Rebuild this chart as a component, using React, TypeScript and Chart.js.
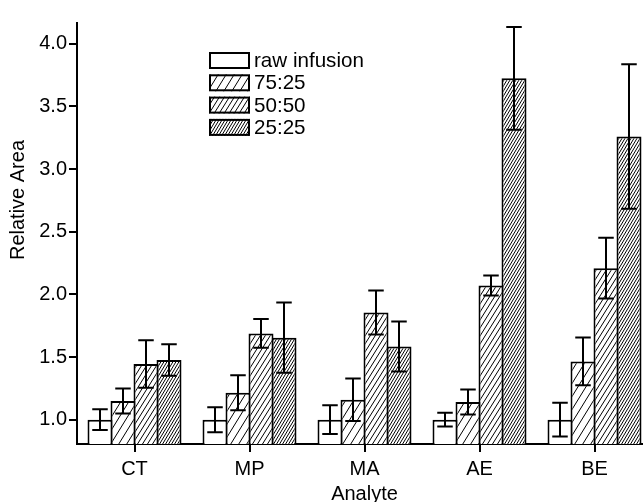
import React, { useEffect, useRef } from 'react';
import { Chart, registerables } from 'chart.js';

Chart.register(...registerables);

const categories = ['CT', 'MP', 'MA', 'AE', 'BE'];
const seriesNames = ['raw infusion', '75:25', '50:50', '25:25'];
const rawInfusion = [1.0, 1.0, 1.0, 1.0, 1.0];
const rawInfusionErr = [0.083, 0.1, 0.115, 0.055, 0.135];
const ratio7525 = [1.149, 1.215, 1.159, 1.141, 1.465];
const ratio7525Err = [0.1, 0.14, 0.17, 0.1, 0.19];
const ratio5050 = [1.444, 1.688, 1.855, 2.071, 2.209];
const ratio5050Err = [0.19, 0.115, 0.175, 0.08, 0.243];
const ratio2525 = [1.476, 1.654, 1.584, 3.724, 3.259];
const ratio2525Err = [0.125, 0.28, 0.2, 0.41, 0.577];
const yTicks = [1.0, 1.5, 2.0, 2.5, 3.0, 3.5, 4.0];
const yTitle = 'Relative Area';
const xTitle = 'Analyte';

const seriesValues = [rawInfusion, ratio7525, ratio5050, ratio2525];
const seriesErrors = [rawInfusionErr, ratio7525Err, ratio5050Err, ratio2525Err];

const FONT = '"Liberation Sans", Arial, Helvetica, sans-serif';

function makeHatch(ctx: CanvasRenderingContext2D, spacing: number, rise: number) {
  const c = document.createElement('canvas');
  c.width = spacing;
  c.height = rise;
  const g = c.getContext('2d')!;
  g.fillStyle = '#ffffff';
  g.fillRect(0, 0, spacing, rise);
  g.strokeStyle = '#000000';
  g.lineWidth = 1;
  g.beginPath();
  for (const dx of [-spacing, 0, spacing]) {
    g.moveTo(dx, rise);
    g.lineTo(dx + spacing, 0);
  }
  g.stroke();
  return ctx.createPattern(c, 'repeat') as CanvasPattern;
}

export default function App() {
  const ref = useRef<HTMLCanvasElement | null>(null);

  useEffect(() => {
    const canvas = ref.current;
    if (!canvas) return;
    const ctx = canvas.getContext('2d')!;
    const fills: (string | CanvasPattern)[] = [
      '#ffffff',
      makeHatch(ctx, 8, 13),
      makeHatch(ctx, 5, 8),
      makeHatch(ctx, 3, 5),
    ];

    const errorBars = {
      id: 'errorBars',
      afterDatasetsDraw(chart: any) {
        const c = chart.ctx;
        const ys = chart.scales.y;
        c.save();
        c.strokeStyle = '#000';
        c.lineWidth = 2;
        chart.data.datasets.forEach((ds: any, i: number) => {
          const meta = chart.getDatasetMeta(i);
          meta.data.forEach((el: any, j: number) => {
            const v = seriesValues[i][j];
            const e = seriesErrors[i][j];
            const yt = ys.getPixelForValue(v + e);
            const yb = ys.getPixelForValue(v - e);
            const hw = el.width * 0.31;
            c.beginPath();
            c.moveTo(el.x, yt);
            c.lineTo(el.x, yb);
            c.moveTo(el.x - hw, yt);
            c.lineTo(el.x + hw, yt);
            c.moveTo(el.x - hw, yb);
            c.lineTo(el.x + hw, yb);
            c.stroke();
          });
        });
        c.restore();
      },
    };

    const customText = {
      id: 'customText',
      afterDraw(chart: any) {
        const c = chart.ctx;
        const a = chart.chartArea;
        c.save();
        // legend
        const bx = a.left + 132;
        const by = a.top + 29;
        const bw = 41;
        const bh = 17;
        const pitch = 22.3;
        c.font = `20.6px ${FONT}`;
        c.textBaseline = 'middle';
        c.textAlign = 'left';
        seriesNames.forEach((name, i) => {
          const y = by + i * pitch;
          c.fillStyle = fills[i] as any;
          c.fillRect(bx, y, bw, bh);
          c.strokeStyle = '#000';
          c.lineWidth = 2;
          c.strokeRect(bx + 1, y + 1, bw - 2, bh - 2);
          c.fillStyle = '#000';
          c.fillText(name, bx + bw + 4, y + bh / 2 + 1);
        });
        // y title
        c.translate(18, a.top + 177);
        c.rotate(-Math.PI / 2);
        c.textAlign = 'center';
        c.textBaseline = 'middle';
        c.font = `20px ${FONT}`;
        c.fillText(yTitle, 0, 0);
        c.restore();
      },
    };

    const chart = new Chart(canvas, {
      type: 'bar',
      data: {
        labels: categories,
        datasets: seriesValues.map((vals, i) => ({
          label: seriesNames[i],
          data: vals,
          backgroundColor: fills[i] as any,
          borderColor: '#000',
          borderWidth: 2,
          borderSkipped: false,
          categoryPercentage: 0.8,
          barPercentage: 1.087,
        })),
      },
      options: {
        animation: false,
        responsive: false,
        layout: { padding: { left: 30, top: 23, right: 0, bottom: 0 } },
        plugins: {
          legend: { display: false },
          tooltip: { enabled: false },
        },
        scales: {
          x: {
            type: 'category',
            offset: true,
            grid: {
              display: true,
              drawOnChartArea: false,
              drawTicks: true,
              tickLength: 8,
              offset: false,
              color: '#000',
              lineWidth: 2,
            },
            border: { display: true, color: '#000', width: 2 },
            ticks: {
              color: '#000',
              font: { family: FONT, size: 20 },
              padding: 5,
              maxRotation: 0,
            },
            title: {
              display: true,
              text: xTitle,
              color: '#000',
              font: { family: FONT, size: 20 },
              padding: { top: 2, bottom: 0 },
            },
            afterFit: (s: any) => {
              s.height = 62;
            },
          },
          y: {
            type: 'linear',
            min: 0.806,
            max: 4.165,
            afterBuildTicks: (s: any) => {
              s.ticks = yTicks.map((v) => ({ value: v }));
            },
            grid: {
              display: true,
              drawOnChartArea: false,
              drawTicks: true,
              tickLength: 8,
              color: '#000',
              lineWidth: 2,
            },
            border: { display: true, color: '#000', width: 2 },
            ticks: {
              color: '#000',
              font: { family: FONT, size: 20 },
              padding: 2,
              callback: (v: any) => Number(v).toFixed(1),
            },
            afterFit: (s: any) => {
              s.width = 47;
            },
          },
        },
      },
      plugins: [errorBars, customText],
    });

    return () => chart.destroy();
  }, []);

  return (
    <div
      style={{
        position: 'absolute',
        left: 0,
        top: 0,
        width: 643,
        height: 502,
        overflow: 'hidden',
        background: '#fff',
      }}
    >
      <canvas ref={ref} width={652} height={506} style={{ display: 'block' }} />
    </div>
  );
}
